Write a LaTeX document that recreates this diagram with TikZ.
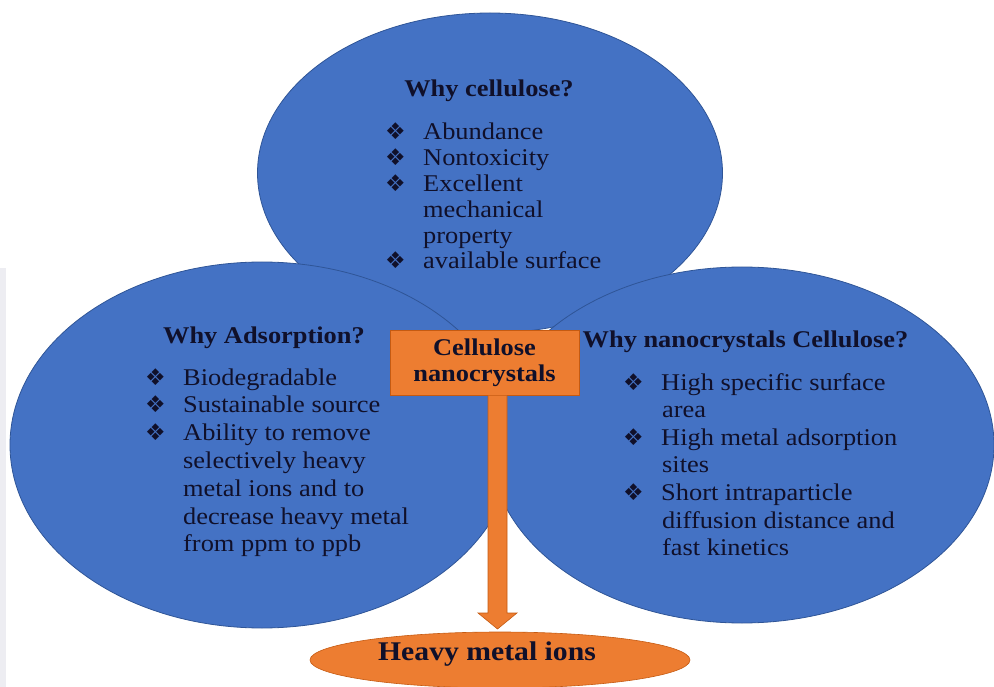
\documentclass[tikz,border=0pt]{standalone}
\usepackage{fontspec}
\setmainfont{Liberation Serif}[FakeStretch=1.1]
\newfontfamily\dejavu{DejaVu Sans}
\usetikzlibrary{shapes.geometric,calc}
\definecolor{cblue}{HTML}{4472C4}
\definecolor{cblueline}{HTML}{2F5597}
\definecolor{corange}{HTML}{ED7D31}
\definecolor{corangeline}{HTML}{C55A11}
\definecolor{ctext}{HTML}{10102A}
\definecolor{cstrip}{HTML}{EDEDF2}
\newcommand{\bul}{\makebox[38pt][l]{\dejavu\fontsize{23}{23}\selectfont ❖}}
\begin{document}
\begin{tikzpicture}[x=1pt,y=-1pt,
  blob/.style={ellipse, fill=cblue, draw=cblueline, line width=0.8pt, inner sep=0pt, outer sep=0pt},
  obox/.style={rectangle, fill=corange, draw=corangeline, line width=0.6pt, inner sep=0pt, outer sep=0pt,
    font=\fontsize{24}{26}\selectfont\bfseries, text=ctext, align=center},
  oell/.style={ellipse, fill=corange, draw=corangeline, line width=0.6pt, inner sep=0pt, outer sep=0pt},
  arrowbody/.style={fill=corange, draw=corangeline, line width=0.6pt, line join=miter},
  item/.style={anchor=base west, inner sep=0pt, font=\fontsize{24}{28}\selectfont, text=ctext},
  head/.style={anchor=base, inner sep=0pt, font=\fontsize{24}{28}\selectfont\bfseries, text=ctext}]
\useasboundingbox (0,0) rectangle (994,687);
\fill[cstrip] (0,268) rectangle (6,687);

% ellipses
\node[blob, minimum width=465pt, minimum height=320pt] (top) at (490,173) {};
\node[blob, minimum width=504pt, minimum height=366pt] (left) at (262,445) {};
\node[blob, minimum width=504pt, minimum height=356pt] (right) at (742,445) {};

% centre box and target
\node[oell, minimum width=380pt, minimum height=56pt] (heavy) at (500,660) {};
\node[obox, minimum width=189pt, minimum height=65pt] (box) at (484.5,363) {};

% arrow from box to target
\draw[arrowbody] let \p1=(box.south), \p2=(heavy.north) in
  (\x1+3.5pt,\y1) -- (\x1+3.5pt,\y2+19pt) -- (\x1-6.5pt,\y2+19pt) -- (\x1+13pt,\y2+3pt)
  -- (\x1+32.5pt,\y2+19pt) -- (\x1+22.5pt,\y2+19pt) -- (\x1+22.5pt,\y1);
\node[obox, draw=none, fill=none] (boxtext) at (box.center) {Cellulose\\nanocrystals};

\node[anchor=base, inner sep=0pt, font=\fontsize{27}{30}\selectfont\bfseries, text=ctext] (heavytext) at (487,660) {Heavy metal ions};

% top ellipse text
\node[head] (th) at (489,97) {Why cellulose?};
\node[item] (t1) at (385,140) {\bul Abundance};
\node[item] (t2) at (385,165.8) {\bul Nontoxicity};
\node[item] (t3) at (385,191.6) {\bul Excellent};
\node[item] (t4) at (423,217.4) {mechanical};
\node[item] (t5) at (423,243.2) {property};
\node[item] (t6) at (385,269) {\bul available surface};

% left ellipse text
\node[head] (lh) at (264,343) {Why Adsorption?};
\node[item] (l1) at (145,385) {\bul Biodegradable};
\node[item] (l2) at (145,412.8) {\bul Sustainable source};
\node[item] (l3) at (145,440.6) {\bul Ability to remove};
\node[item] (l4) at (183,468.4) {selectively heavy};
\node[item] (l5) at (183,496.2) {metal ions and to};
\node[item] (l6) at (183,524) {decrease heavy metal};
\node[item] (l7) at (183,551.8) {from ppm to ppb};

% right ellipse text
\node[head] (rh) at (745.5,347) {Why nanocrystals Cellulose?};
\node[item] (r1) at (623,390) {\bul High specific surface};
\node[item] (r2) at (662,417.6) {area};
\node[item] (r3) at (623,445.2) {\bul High metal adsorption};
\node[item] (r4) at (662,472.8) {sites};
\node[item] (r5) at (623,500.4) {\bul Short intraparticle};
\node[item] (r6) at (662,528) {diffusion distance and};
\node[item] (r7) at (662,555.6) {fast kinetics};
\end{tikzpicture}
\end{document}
